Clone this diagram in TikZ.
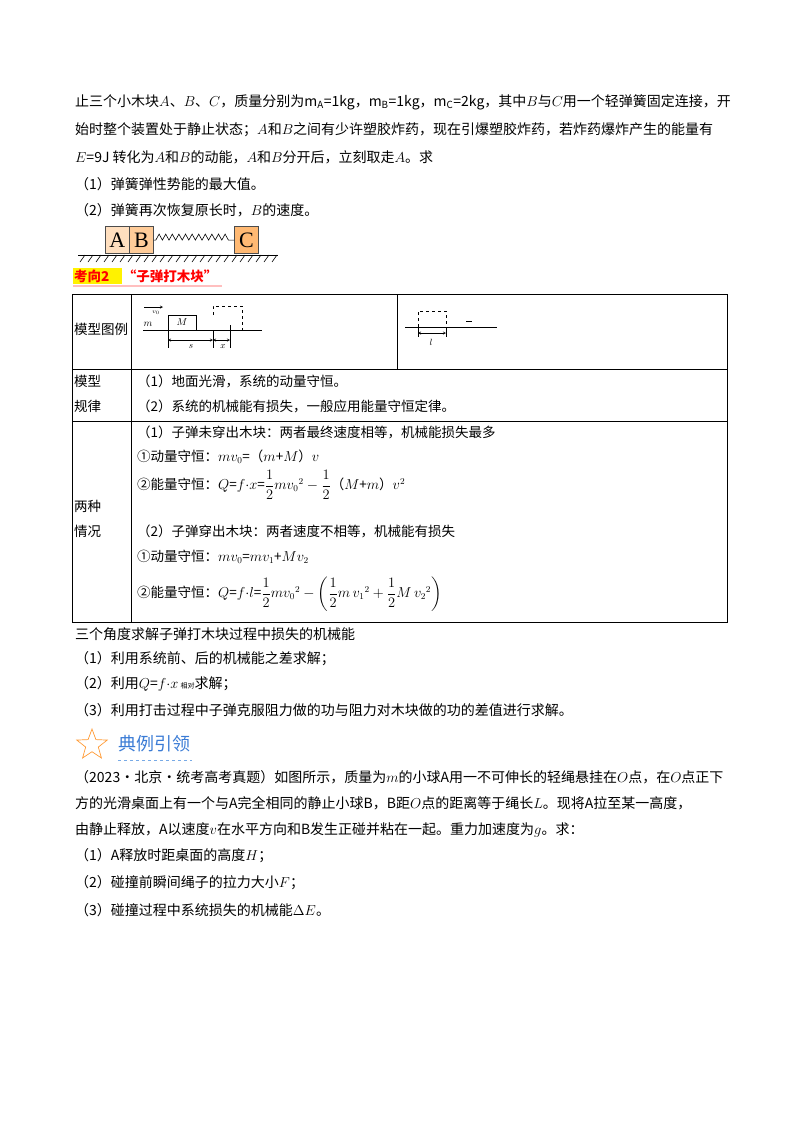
\documentclass[tikz,border=0pt]{standalone}
\usepackage{amsmath}
\usepackage{fontspec}
\setmainfont{Noto Sans CJK SC}
\newfontfamily\serif{Liberation Serif}
\usetikzlibrary{shapes.geometric,patterns}
\begin{document}
\begin{tikzpicture}[x=1pt,y=-1pt,
  txt/.style={anchor=west,inner sep=0,font=\fontsize{14}{16}\selectfont},
  cell/.style={anchor=west,inner sep=0,font=\fontsize{13.5}{16}\selectfont},
  blk/.style={draw=black!70,line width=0.8pt,minimum width=24,minimum height=27,inner sep=0,font=\fontsize{22}{22}\selectfont\serif},
  dim/.style={<->,>=stealth,line width=0.4pt},
  grid/.style={line width=0.8pt}]
\useasboundingbox (0,0) rectangle (800,1132);
\node[txt] (l1) at (75,102) {止三个小木块$A$、$B$、$C$，质量分别为m\textsubscript{A}=1kg，m\textsubscript{B}=1kg，m\textsubscript{C}=2kg，其中$B$与$C$用一个轻弹簧固定连接，开};
\node[txt] (l2) at (75,130) {始时整个装置处于静止状态；$A$和$B$之间有少许塑胶炸药，现在引爆塑胶炸药，若炸药爆炸产生的能量有};
\node[txt] (l3) at (75,157) {$E$=9J 转化为$A$和$B$的动能，$A$和$B$分开后，立刻取走$A$。求};
\node[txt] (l4) at (75,184) {（1）弹簧弹性势能的最大值。};
\node[txt] (l5) at (75,210) {（2）弹簧再次恢复原长时，$B$的速度。};
% ABC figure
\node[blk,fill=orange!25,anchor=south west] (A) at (105,254) {A};
\node[blk,fill=orange!40,anchor=south west] (B) at (129,254) {B};
\node[blk,fill=orange!55,anchor=south west] (C) at (234,254) {C};
\draw[line width=0.6pt] (B.east) -- ++(2,0) \foreach \i in {0,...,10}{ -- ++(3.3,-6) -- ++(3.3,6)} -- (C.west);
\draw[line width=0.8pt] (78,255) -- (278,255);
\foreach \x in {80,88,...,276} \draw[line width=0.6pt] (\x,262) -- (\x+5,255);
% heading 2
\fill[yellow] (73,268) rectangle (122,284);
\node[txt,text=red,font=\fontsize{13.5}{16}\selectfont\bfseries] (h2) at (74,276) {考向2\quad “子弹打木块”};
\draw[pink,line width=2pt] (73,286) -- (222,286);
% table
\draw[grid] (72,294) rectangle (727,622);
\draw[grid] (72,369) -- (727,369);
\draw[grid] (72,421) -- (727,421);
\draw[grid] (131,294) -- (131,622);
\draw[grid] (397,294) -- (397,369);
\node[cell] (c11) at (74,329) {模型图例};
\node[cell] (c21) at (74,381) {模型};
\node[cell] (c21b) at (74,406) {规律};
\node[cell] (c31) at (74,506) {两种};
\node[cell] (c31b) at (74,531) {情况};
% left mini diagram
\draw[line width=0.5pt] (143,330) -- (262,330);
\draw[line width=0.5pt] (168,315) rectangle (196,330);
\node[font=\fontsize{10}{10}\selectfont] (M) at (182,322) {$M$};
\node[font=\fontsize{10}{10}\selectfont] (m) at (148,324) {$m$};
\draw[->,>=stealth,line width=0.4pt] (144,307) -- (163,307);
\node[font=\fontsize{6}{6}\selectfont] (v0) at (156,313) {$v_0$};
\draw[dashed,line width=0.5pt] (213,315) -- (213,306) -- (242,306) -- (242,330);
\draw[line width=0.4pt] (168,330) -- (168,348) (213,330) -- (213,348) (230,325) -- (230,348);
\draw[dim] (168,340) -- (213,340);
\draw[dim] (213,340) -- (230,340);
\node[font=\fontsize{9}{9}\selectfont] (s) at (191,347) {$s$};
\node[font=\fontsize{9}{9}\selectfont] (x) at (223,347) {$x$};
% right mini diagram
\draw[line width=0.5pt] (405,327) -- (497,327);
\draw[dashed,line width=0.5pt] (418,327) -- (418,311) -- (446,311) -- (446,327);
\draw[line width=0.4pt] (418,327) -- (418,337) (446,327) -- (446,337);
\draw[dim] (418,333) -- (446,333);
\node[font=\fontsize{9}{9}\selectfont] (l) at (431,342) {$l$};
\draw[line width=0.4pt] (466,321) -- (472,321);
% row 2
\node[cell] (r21) at (137,381) {（1）地面光滑，系统的动量守恒。};
\node[cell] (r22) at (137,406) {（2）系统的机械能有损失，一般应用能量守恒定律。};
% row 3
\node[cell] (r31) at (137,432) {（1）子弹未穿出木块：两者最终速度相等，机械能损失最多};
\node[cell] (r32) at (137,457) {①动量守恒：$mv_0$=（$m$+$M$）$v$};
\node[cell] (r33) at (137,485) {②能量守恒：$Q$=$f{\cdot}x$=$\dfrac{1}{2}mv_0{}^2-\dfrac{1}{2}$（$M$+$m$）$v^2$};
\node[cell] (r34) at (137,531) {（2）子弹穿出木块：两者速度不相等，机械能有损失};
\node[cell] (r35) at (137,557) {①动量守恒：$mv_0$=$mv_1$+$Mv_2$};
\node[cell] (r36) at (137,594) {②能量守恒：$Q$=$f{\cdot}l$=$\dfrac{1}{2}mv_0{}^2-\left(\dfrac{1}{2}m\,v_1{}^2+\dfrac{1}{2}M\,v_2{}^2\right)$};
% after table
\node[txt] (a1) at (75,634) {三个角度求解子弹打木块过程中损失的机械能};
\node[txt] (a2) at (75,659) {（1）利用系统前、后的机械能之差求解；};
\node[txt] (a3) at (75,684) {（2）利用$Q$=$f{\cdot}x$\,{\fontsize{7}{8}\selectfont 相对}求解；};
\node[txt] (a4) at (75,710) {（3）利用打击过程中子弹克服阻力做的功与阻力对木块做的功的差值进行求解。};
% example heading
\node[star,star points=5,star point ratio=2.4,draw=orange!80,line width=0.7pt,minimum size=32,inner sep=0] (st) at (92,745) {};
\node[txt,text={rgb,255:red,58;green,123;blue,213},font=\fontsize{18}{20}\selectfont] (ex) at (118,744) {典例引领};
\draw[dashed,line width=1pt,draw={rgb,255:red,120;green,170;blue,230}] (118,760) -- (192,760);
% paragraph
\node[txt] (p1) at (75,777) {（2023·北京·统考高考真题）如图所示，质量为$m$的小球A用一不可伸长的轻绳悬挂在$O$点，在$O$点正下};
\node[txt] (p2) at (75,803) {方的光滑桌面上有一个与A完全相同的静止小球B，B距$O$点的距离等于绳长$L$。现将A拉至某一高度，};
\node[txt] (p3) at (75,830) {由静止释放，A以速度$v$在水平方向和B发生正碰并粘在一起。重力加速度为$g$。求：};
\node[txt] (p4) at (75,856) {（1）A释放时距桌面的高度$H$；};
\node[txt] (p5) at (75,883) {（2）碰撞前瞬间绳子的拉力大小$F$；};
\node[txt] (p6) at (75,910) {（3）碰撞过程中系统损失的机械能$\Delta E$。};
\end{tikzpicture}
\end{document}
